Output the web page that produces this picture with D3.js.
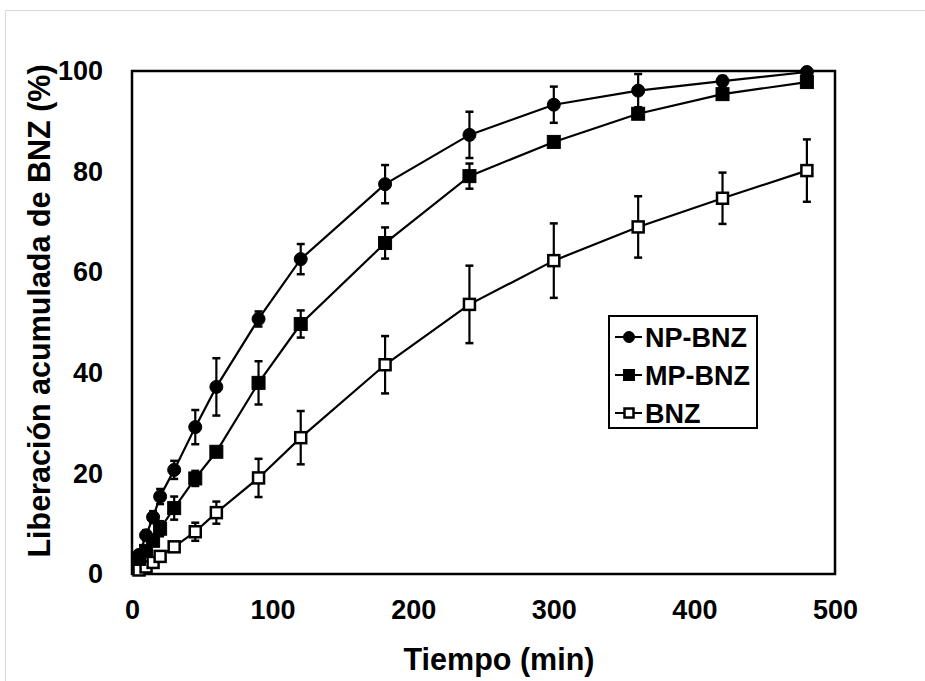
<!DOCTYPE html>
<html>
<head>
<meta charset="utf-8">
<script src="https://cdn.jsdelivr.net/npm/d3@7"></script>
<style>
  body { margin: 0; background: #fff; }
  svg text { font-family: "Liberation Sans", Arial, sans-serif; font-weight: bold; fill: #000; }
</style>
</head>
<body>
<svg id="chart" width="925" height="681"></svg>
<script>
// release data
var times = [5, 10, 15, 20, 30, 45, 60, 90, 120, 180, 240, 300, 360, 420, 480];

var npMean = [3.8, 7.7, 11.3, 15.4, 20.7, 29.2, 37.2, 50.7, 62.6, 77.5, 87.3, 93.3, 96.1, 98.0, 99.8];
var npErr  = [0.8, 1.0, 1.2, 1.5, 1.8, 3.4, 5.7, 1.5, 3.0, 3.8, 4.6, 3.6, 3.3, 1.0, 0.6];

var mpMean = [3.0, 4.6, 6.6, 9.0, 13.1, 19.0, 24.3, 38.0, 49.7, 65.8, 79.1, 85.9, 91.5, 95.4, 97.8];
var mpErr  = [0.5, 0.8, 1.0, 1.5, 2.3, 1.5, 0.8, 4.3, 2.7, 3.1, 2.5, 0.8, 1.0, 1.0, 0.8];

var bnzMean = [0.8, 1.4, 2.3, 3.5, 5.4, 8.4, 12.2, 19.1, 27.1, 41.6, 53.6, 62.3, 69.0, 74.7, 80.2];
var bnzErr  = [0.3, 0.4, 0.5, 0.6, 0.8, 1.8, 2.2, 3.8, 5.3, 5.7, 7.7, 7.4, 6.1, 5.1, 6.2];

var seriesNames = ["NP-BNZ", "MP-BNZ", "BNZ"];
var xTicks = [0, 100, 200, 300, 400, 500];
var yTicks = [0, 20, 40, 60, 80, 100];

var series = [
  {name: seriesNames[0], mean: npMean, err: npErr, shape: "circle", fill: "#000"},
  {name: seriesNames[1], mean: mpMean, err: mpErr, shape: "square", fill: "#000"},
  {name: seriesNames[2], mean: bnzMean, err: bnzErr, shape: "square", fill: "#fff"}
];
series.forEach(function(s) {
  s.values = times.map(function(t, i) { return {t: t, v: s.mean[i], e: s.err[i]}; });
});

var svg = d3.select("#chart"),
    margin = {top: 71, right: 90, bottom: 107, left: 132},
    width = +svg.attr("width") - margin.left - margin.right,
    height = +svg.attr("height") - margin.top - margin.bottom;

// light outer frame
svg.append("rect")
    .attr("x", 5.5).attr("y", 10.5)
    .attr("width", 940).attr("height", 700)
    .attr("fill", "none").attr("stroke", "#d9d9d9").attr("stroke-width", 1);

var g = svg.append("g").attr("transform", "translate(" + margin.left + "," + margin.top + ")");

var x = d3.scaleLinear().domain([0, 500]).range([0, width]);
var y = d3.scaleLinear().domain([0, 100]).range([height, 0]);

// axes (labels only, no tick marks)
var xAxis = g.append("g")
    .attr("transform", "translate(0," + height + ")")
    .call(d3.axisBottom(x).tickValues(xTicks).tickSize(0).tickPadding(26));
xAxis.select(".domain").remove();
xAxis.selectAll("text").attr("font-size", 27).attr("font-family", null);

var yAxis = g.append("g")
    .call(d3.axisLeft(y).tickValues(yTicks).tickSize(0).tickPadding(29));
yAxis.select(".domain").remove();
yAxis.selectAll("text").attr("font-size", 27).attr("font-family", null);

// plot frame
g.append("rect")
    .attr("width", width).attr("height", height)
    .attr("fill", "none").attr("stroke", "#000").attr("stroke-width", 2.5);

var line = d3.line()
    .x(function(d) { return x(d.t); })
    .y(function(d) { return y(d.v); });

function drawMarker(sel, s, size) {
  if (s.shape === "circle") {
    sel.append("circle").attr("r", size / 2)
        .attr("fill", s.fill).attr("stroke", "#000").attr("stroke-width", 1);
  } else {
    var w = s.fill === "#fff" ? size - 2 : size;
    sel.append("rect")
        .attr("x", -w / 2).attr("y", -w / 2)
        .attr("width", w).attr("height", w)
        .attr("fill", s.fill).attr("stroke", "#000")
        .attr("stroke-width", s.fill === "#fff" ? 2.5 : 1);
  }
}

// error bars
series.forEach(function(s) {
  var eb = g.append("g").selectAll("g")
      .data(s.values).enter().append("g")
      .attr("stroke", "#000").attr("stroke-width", 2.2);
  eb.append("line")
      .attr("x1", function(d) { return x(d.t); }).attr("x2", function(d) { return x(d.t); })
      .attr("y1", function(d) { return y(d.v + d.e); })
      .attr("y2", function(d) { return y(d.v - d.e); });
  eb.append("line")
      .attr("x1", function(d) { return x(d.t) - 4; }).attr("x2", function(d) { return x(d.t) + 4; })
      .attr("y1", function(d) { return y(d.v + d.e); }).attr("y2", function(d) { return y(d.v + d.e); })
      .attr("stroke-width", 2.5);
  eb.append("line")
      .attr("x1", function(d) { return x(d.t) - 4; }).attr("x2", function(d) { return x(d.t) + 4; })
      .attr("y1", function(d) { return y(d.v - d.e); }).attr("y2", function(d) { return y(d.v - d.e); })
      .attr("stroke-width", 2.5);
});

// lines
series.forEach(function(s) {
  g.append("path")
      .datum(s.values)
      .attr("fill", "none").attr("stroke", "#000").attr("stroke-width", 2.2)
      .attr("d", line);
});

// markers
series.slice().reverse().forEach(function(s) {
  g.append("g").selectAll("g")
      .data(s.values).enter().append("g")
      .attr("transform", function(d) { return "translate(" + x(d.t) + "," + y(d.v) + ")"; })
      .each(function() { drawMarker(d3.select(this), s, 13); });
});

// axis titles
svg.append("text")
    .attr("x", 499).attr("y", 670)
    .attr("text-anchor", "middle").attr("font-size", 30.5)
    .text("Tiempo (min)");

svg.append("text")
    .attr("transform", "translate(50,311) rotate(-90)")
    .attr("text-anchor", "middle").attr("font-size", 30.5)
    .text("Liberación acumulada de BNZ (%)");

// legend
var legend = svg.append("g").attr("transform", "translate(609,316)");
legend.append("rect")
    .attr("width", 148).attr("height", 112)
    .attr("fill", "#fff").attr("stroke", "#000").attr("stroke-width", 2);

var item = legend.selectAll(".item")
    .data(series).enter().append("g")
    .attr("transform", function(d, i) { return "translate(0," + (21 + 38 * i) + ")"; });
item.append("line")
    .attr("x1", 6).attr("x2", 33)
    .attr("stroke", "#000").attr("stroke-width", 2);
item.append("g")
    .attr("transform", "translate(20,0)")
    .each(function(d) { drawMarker(d3.select(this), d, 11); });
item.append("text")
    .attr("x", 36).attr("dy", "0.36em")
    .attr("font-size", 27)
    .text(function(d) { return d.name; });
</script>
</body>
</html>
